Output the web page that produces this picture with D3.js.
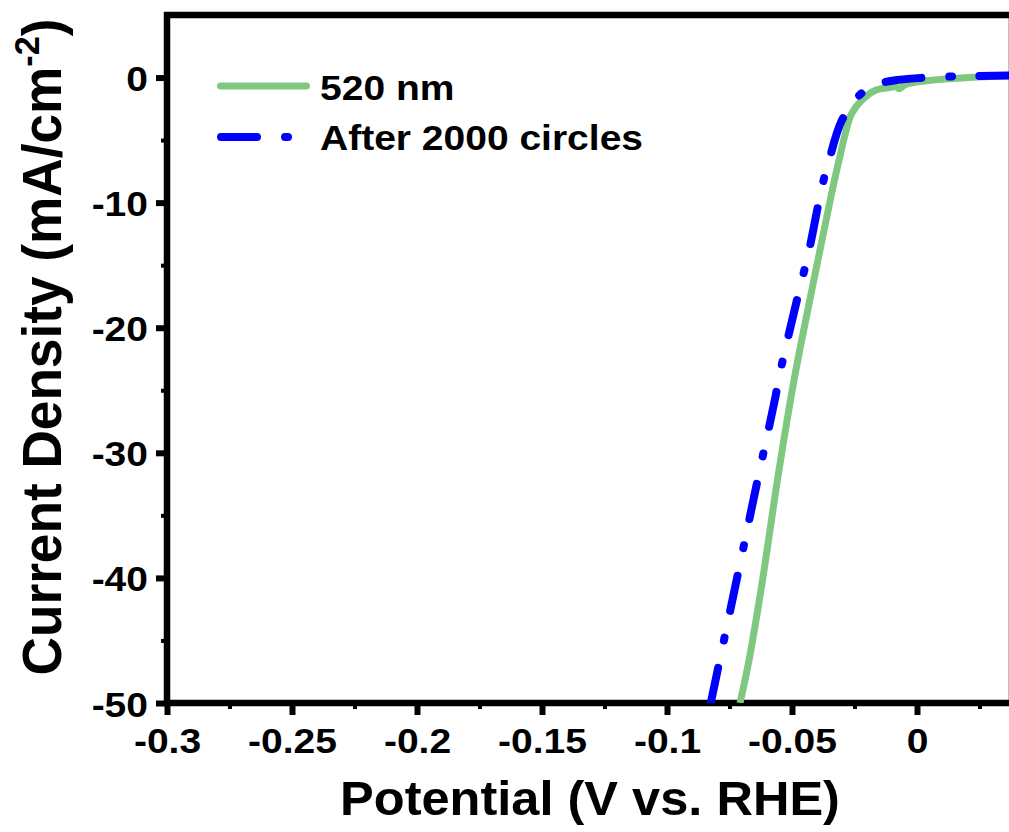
<!DOCTYPE html>
<html>
<head>
<meta charset="utf-8">
<script src="https://cdn.jsdelivr.net/npm/d3@7"></script>
<style>
  body { margin: 0; background: #fff; }
  text { font-family: "Liberation Sans", Arial, sans-serif; font-weight: bold; }
</style>
</head>
<body>
<svg id="chart" width="1009" height="832"></svg>
<script>
// data (V vs. RHE, mA/cm^2)
const potential520 = [-0.0708, -0.0672, -0.0618, -0.0600, -0.0553, -0.0492, -0.0435, -0.0380, -0.0345, -0.0330, -0.0305, -0.0287, -0.0262, -0.0222, -0.0168, -0.0110, -0.0085, -0.0072, -0.0050, -0.0005, 0.0128, 0.0250, 0.0380];
const current520   = [-50, -46.6, -40.2, -37.8, -31.5, -24.2, -18.4, -13.0, -9.6, -8.2, -6.0, -4.5, -2.9, -1.84, -1.04, -0.8, -0.72, -0.9, -0.6, -0.37, -0.1, 0.05, 0.16];

const potentialAfter = [-0.0825, -0.0705, -0.0640, -0.0568, -0.0548, -0.0478, -0.0432, -0.0379, -0.0352, -0.0301, -0.0232, -0.0152, -0.0080, 0.0015, 0.0128, 0.0380];
const currentAfter   = [-50, -38.6, -32.4, -25.7, -23.6, -17.6, -13.84, -8.64, -6.64, -3.44, -1.44, -0.5, -0.2, -0.03, 0.08, 0.16];

const seriesNames = ["520 nm", "After 2000 circles"];

const xTicks = [-0.3, -0.25, -0.2, -0.15, -0.1, -0.05, 0];
const xTickLabels = ["-0.3", "-0.25", "-0.2", "-0.15", "-0.1", "-0.05", "0"];
const xMinorTicks = [-0.275, -0.225, -0.175, -0.125, -0.075, -0.025, 0.025];
const yTicks = [0, -10, -20, -30, -40, -50];
const yTickLabels = ["0", "-10", "-20", "-30", "-40", "-50"];
const yMinorTicks = [-5, -15, -25, -35, -45];

const svg = d3.select("#chart");
const squash = 0.92;   // glyphs in the original are a bit flattened
const plotLeft = 167, plotRight = 1012, plotTop = 15, plotBottom = 703;

const x = d3.scaleLinear().domain([-0.3, 0.038]).range([plotLeft, plotRight]);
const y = d3.scaleLinear().domain([-50, 5]).range([plotBottom, plotTop]);

svg.append("defs").append("clipPath").attr("id", "plotClip")
  .append("rect").attr("x", plotLeft).attr("y", plotTop)
  .attr("width", plotRight - plotLeft).attr("height", plotBottom - plotTop);

// axes
function styleTicks(g, width) {
  g.select(".domain").remove();
  g.selectAll(".tick line").attr("stroke", "#000").attr("stroke-width", width);
}

const gx = svg.append("g").attr("transform", `translate(0,${plotBottom})`)
  .call(d3.axisBottom(x).tickValues(xTicks).tickFormat((d, i) => xTickLabels[i]).tickSize(12));
styleTicks(gx, 6);
gx.selectAll(".tick text")
  .attr("y", null).attr("dy", null)
  .attr("fill", "#000").attr("font-size", 39)
  .attr("transform", `translate(0,50) scale(1,${squash})`);

svg.append("g").attr("transform", `translate(0,${plotBottom})`)
  .call(d3.axisBottom(x).tickValues(xMinorTicks).tickFormat("").tickSize(6))
  .call(g => styleTicks(g, 4));

const gy = svg.append("g").attr("transform", `translate(${plotLeft},0)`)
  .call(d3.axisLeft(y).tickValues(yTicks).tickFormat((d, i) => yTickLabels[i]).tickSize(11));
styleTicks(gy, 6);
gy.selectAll(".tick text")
  .attr("x", null).attr("dy", null)
  .attr("fill", "#000").attr("font-size", 39).attr("text-anchor", "end")
  .attr("transform", `translate(-19,13) scale(1,${squash})`);

svg.append("g").attr("transform", `translate(${plotLeft},0)`)
  .call(d3.axisLeft(y).tickValues(yMinorTicks).tickFormat("").tickSize(6))
  .call(g => styleTicks(g, 4));

// frame
svg.append("rect")
  .attr("x", plotLeft).attr("y", plotTop)
  .attr("width", plotRight - plotLeft).attr("height", plotBottom - plotTop)
  .attr("fill", "none").attr("stroke", "#000").attr("stroke-width", 6.5);

// curves
const line = d3.line()
  .x(d => x(d[0]))
  .y(d => y(d[1]))
  .curve(d3.curveCatmullRom.alpha(0.5));

const plot = svg.append("g").attr("clip-path", "url(#plotClip)");

plot.append("path")
  .datum(d3.zip(potential520, current520))
  .attr("d", line)
  .attr("fill", "none")
  .attr("stroke", "#80C880")
  .attr("stroke-width", 7)
  .attr("stroke-linejoin", "round");

plot.append("path")
  .datum(d3.zip(potentialAfter, currentAfter))
  .attr("d", line)
  .attr("fill", "none")
  .attr("stroke", "#0000FF")
  .attr("stroke-width", 8)
  .attr("stroke-linecap", "round")
  .attr("stroke-dasharray", "36,28,3,27");

// legend
const legend = svg.append("g");
legend.append("line")
  .attr("x1", 220.5).attr("x2", 306.5).attr("y1", 86).attr("y2", 86)
  .attr("stroke", "#80C880").attr("stroke-width", 7).attr("stroke-linecap", "round");
legend.append("line")
  .attr("x1", 221).attr("x2", 306).attr("y1", 137).attr("y2", 137)
  .attr("stroke", "#0000FF").attr("stroke-width", 8).attr("stroke-linecap", "round")
  .attr("stroke-dasharray", "36,28,3,27");
seriesNames.forEach((name, i) => {
  const t = legend.append("text")
    .attr("font-size", 39).attr("fill", "#000")
    .text(name);
  t.attr("transform", `translate(320,${100 + i * 50}) scale(1,${squash})`);
});

// axis titles
const xTitle = svg.append("text")
  .attr("font-size", 50).attr("fill", "#000").attr("text-anchor", "middle")
  .text("Potential (V vs. RHE)");
const xk = 500 / xTitle.node().getComputedTextLength();
xTitle.attr("transform", `translate(590,815) scale(${xk},0.96)`);

const yTitle = svg.append("text")
  .attr("font-size", 56).attr("fill", "#000").attr("text-anchor", "middle");
yTitle.append("tspan").text("Current Density (mA/cm");
yTitle.append("tspan").attr("font-size", 36).attr("dy", -22).text("-2");
yTitle.append("tspan").attr("dy", 22).text(")");
const yk = 657 / yTitle.node().getComputedTextLength();
yTitle.attr("transform", `translate(61,347) rotate(-90) scale(${yk},1)`);
</script>
</body>
</html>
